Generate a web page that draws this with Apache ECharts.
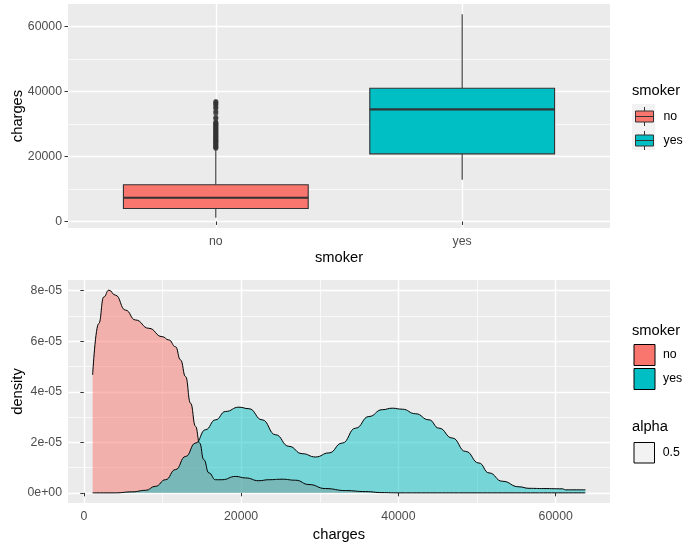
<!DOCTYPE html>
<html>
<head>
<meta charset="utf-8">
<script src="https://cdn.jsdelivr.net/npm/echarts@6/dist/echarts.min.js"></script>
<style>
  html, body { margin: 0; padding: 0; background: #fff; }
  #main { width: 696px; height: 549px; }
</style>
</head>
<body>
<div id="main"></div>
<script>
var groups = ['no', 'yes'];
var groupColors = ['#F8766D', '#00BFC4'];

// box stats per group: [lower whisker, Q1, median, Q3, upper whisker]
var boxNo = [1122, 4000, 7300, 11300, 22400];
var boxYes = [12800, 20800, 34500, 41000, 63770];
var outliersNo = [22500, 22800, 23000, 23300, 23600, 23900, 24200, 24500, 24700,
  25000, 25300, 25600, 25900, 26200, 26500, 26800, 27100, 27400, 27700, 28000,
  28300, 28600, 28900, 29200, 29500, 29800, 30100, 30300, 30600, 31600, 32100,
  33300, 33900, 34800, 35200, 35800, 36200, 36600, 36900];
var chargeRange = [1121.87, 63770.43];

// density curves (units of 1e-05)
var densNoX = [1122, 1900, 2540, 3180, 4030, 5300, 6570, 8270, 9960, 10810, 11660,
  12300, 12940, 13570, 14210, 14720, 15260, 15900, 16750, 17590, 19300, 20570,
  22260, 23500, 25220, 26930, 28620, 30740, 33290, 35830, 37900, 40000, 50000, 63770];
var densNoY = [4.67, 6.7, 7.75, 8.02, 7.82, 7.23, 6.84, 6.51, 6.18, 6.05, 5.78,
  5.26, 4.6, 3.55, 2.63, 1.97, 1.31, 0.79, 0.52, 0.52, 0.65, 0.59,
  0.48, 0.52, 0.54, 0.5, 0.33, 0.17, 0.09, 0.05, 0.01, 0, 0, 0];
var densYesX = [1122, 4000, 6150, 7850, 9120, 10390, 11660, 12940, 14210, 15480,
  16750, 18020, 19720, 20990, 22680, 24380, 26080, 27770, 29470, 31160, 32860,
  34560, 36250, 37940, 39220, 40490, 42190, 43880, 45160, 46850, 48550, 50240,
  51520, 53210, 55330, 56600, 58500, 60840, 61270, 63770];
var densYesY = [0, 0, 0.04, 0.1, 0.26, 0.52, 0.92, 1.44, 1.97, 2.5,
  2.89, 3.22, 3.39, 3.33, 2.89, 2.3, 1.84, 1.55, 1.42, 1.58, 1.97,
  2.56, 3.02, 3.29, 3.35, 3.31, 3.13, 2.89, 2.56, 2.17, 1.64, 1.18,
  0.79, 0.46, 0.24, 0.18, 0.17, 0.16, 0.12, 0.12];
var densPeak = 8.02;

var chargeTicks = [0, 20000, 40000, 60000];
var chargeMinorTicks = [10000, 30000, 50000];
var densTicks = [0, 2, 4, 6, 8];
var densTickLabels = ['0e+00', '2e-05', '4e-05', '6e-05', '8e-05'];
var densMinorTicks = [1, 3, 5, 7];

var FONT = '"Liberation Sans", Arial, sans-serif';
var pad = (chargeRange[1] - chargeRange[0]) * 0.05;
var chargeMin = chargeRange[0] - pad, chargeMax = chargeRange[1] + pad;

function zip(xs, ys) {
  return xs.map(function (x, i) { return [x, ys[i]]; });
}

function majorAxis(gridIndex, min, max, ticks, fmt, name, nameGap) {
  return {
    type: 'value', gridIndex: gridIndex, min: min, max: max,
    name: name, nameLocation: 'middle', nameGap: nameGap, nameMoveOverlap: false,
    nameTextStyle: { color: '#000', fontSize: 14.7, fontFamily: FONT },
    axisLine: { show: false },
    axisTick: { show: true, length: 3.5, customValues: ticks, lineStyle: { color: '#333', width: 1 } },
    axisLabel: { customValues: ticks, formatter: fmt, color: '#4D4D4D', fontSize: 12.3, fontFamily: FONT, margin: 6 },
    splitLine: { show: true, lineStyle: { color: '#fff', width: 1.4 } }
  };
}

function minorAxis(gridIndex, min, max, ticks) {
  return {
    type: 'value', gridIndex: gridIndex, min: min, max: max,
    axisLine: { show: false },
    axisTick: { show: false, customValues: ticks },
    axisLabel: { show: false, customValues: ticks },
    splitLine: { show: true, lineStyle: { color: '#fff', width: 0.7 } }
  };
}

var boxX = majorAxis(0, 0.4, 2.6, [1, 2], function (v) { return groups[Math.round(v) - 1]; }, 'smoker', 22);
boxX.axisLabel.margin = 8;
var densX = majorAxis(1, chargeMin, chargeMax, chargeTicks, function (v) { return String(v); }, 'charges', 24);
densX.axisLabel.margin = 8;

function renderBox(params, api) {
  var x = api.value(0);
  var half = 0.375;
  var lo = api.coord([x, api.value(1)]);
  var q1 = api.coord([x - half, api.value(2)]);
  var med = api.coord([x - half, api.value(3)]);
  var q3 = api.coord([x - half, api.value(4)]);
  var hi = api.coord([x, api.value(5)]);
  var right = api.coord([x + half, api.value(3)])[0];
  var stroke = '#333333';
  return {
    type: 'group',
    children: [
      { type: 'line', shape: { x1: hi[0], y1: hi[1], x2: hi[0], y2: q3[1] }, style: { stroke: stroke, lineWidth: 1.1 } },
      { type: 'line', shape: { x1: lo[0], y1: lo[1], x2: lo[0], y2: q1[1] }, style: { stroke: stroke, lineWidth: 1.1 } },
      { type: 'rect', shape: { x: q3[0], y: q3[1], width: right - q3[0], height: q1[1] - q3[1] },
        style: { fill: api.visual('color'), stroke: stroke, lineWidth: 1.1 } },
      { type: 'line', shape: { x1: med[0], y1: med[1], x2: right, y2: med[1] }, style: { stroke: stroke, lineWidth: 2.2 } }
    ]
  };
}

var chart = echarts.init(document.getElementById('main'));
var option = {
  animation: false,
  backgroundColor: '#fff',
  textStyle: { fontFamily: FONT },
  grid: [
    { left: 68, top: 4, width: 542, height: 224, show: true, backgroundColor: '#EBEBEB', borderWidth: 0, outerBoundsMode: 'none' },
    { left: 68, top: 280, width: 542, height: 223, show: true, backgroundColor: '#EBEBEB', borderWidth: 0, outerBoundsMode: 'none' }
  ],
  xAxis: [
    boxX,
    densX,
    minorAxis(1, chargeMin, chargeMax, chargeMinorTicks)
  ],
  yAxis: [
    majorAxis(0, chargeMin, chargeMax, chargeTicks, function (v) { return String(v); }, 'charges', 43),
    minorAxis(0, chargeMin, chargeMax, chargeMinorTicks),
    majorAxis(1, -densPeak * 0.05, densPeak * 1.05, densTicks, function (v) { return densTickLabels[densTicks.indexOf(v)]; }, 'density', 43),
    minorAxis(1, -densPeak * 0.05, densPeak * 1.05, densMinorTicks)
  ],
  title: [
    { text: 'smoker', left: 632, top: 83.5, padding: 0 },
    { text: 'smoker', left: 632, top: 323.3, padding: 0 },
    { text: 'alpha', left: 632, top: 419.3, padding: 0 }
  ].map(function (t) {
    t.textStyle = { fontSize: 14.7, fontWeight: 'normal', color: '#000', fontFamily: FONT };
    return t;
  }),
  legend: [
    {
      orient: 'vertical', left: 635, top: 106.5, padding: 0, itemGap: 4,
      itemWidth: 18, itemHeight: 19, selectedMode: false,
      icon: 'path://M0,4L18,4L18,15L0,15Z M9,0L9,4 M9,15L9,19 M0,9.5L18,9.5',
      itemStyle: { borderColor: '#333', borderWidth: 1 },
      textStyle: { fontSize: 12.3, color: '#000', fontFamily: FONT, padding: [0, 0, 0, 5] },
      data: groups.map(function (g, i) { return { name: g, itemStyle: { color: groupColors[i] } }; })
    },
    {
      orient: 'vertical', left: 633.5, top: 344, padding: 0, itemGap: 2,
      itemWidth: 21, itemHeight: 21, selectedMode: false, icon: 'rect',
      itemStyle: { borderColor: '#000', borderWidth: 1 },
      textStyle: { fontSize: 12.3, color: '#000', fontFamily: FONT, padding: [0, 0, 0, 3] },
      data: groups.map(function (g, i) { return { name: g, icon: 'rect', itemStyle: { color: groupColors[i], borderColor: '#000', borderWidth: 1 } }; })
    }
  ],
  graphic: [
    { type: 'rect', left: 632, top: 104, z: -1, shape: { width: 23, height: 46 }, style: { fill: '#F2F2F2' } },
    { type: 'rect', left: 633.5, top: 442, shape: { width: 20.5, height: 20.5 }, style: { fill: '#F2F2F2', stroke: '#000', lineWidth: 1 } },
    { type: 'text', left: 662.7, top: 446.5, style: { text: '0.5', fontSize: 12.3, fill: '#000', fontFamily: FONT } }
  ],
  series: [
    { name: 'no', type: 'custom', xAxisIndex: 0, yAxisIndex: 0, itemStyle: { color: groupColors[0] },
      encode: { x: 0, y: [1, 2, 3, 4, 5] }, renderItem: renderBox, data: [[1].concat(boxNo)] },
    { name: 'yes', type: 'custom', xAxisIndex: 0, yAxisIndex: 0, itemStyle: { color: groupColors[1] },
      encode: { x: 0, y: [1, 2, 3, 4, 5] }, renderItem: renderBox, data: [[2].concat(boxYes)] },
    { name: 'no outliers', type: 'scatter', xAxisIndex: 0, yAxisIndex: 0, symbolSize: 5,
      itemStyle: { color: '#333333' }, data: outliersNo.map(function (v) { return [1, v]; }) },
    { name: 'no', type: 'line', xAxisIndex: 1, yAxisIndex: 2, showSymbol: false, smooth: 0.5, smoothMonotone: 'x',
      lineStyle: { color: '#000', width: 1 }, itemStyle: { color: groupColors[0] },
      areaStyle: { color: groupColors[0], opacity: 0.5 }, data: zip(densNoX, densNoY) },
    { name: 'yes', type: 'line', xAxisIndex: 1, yAxisIndex: 2, showSymbol: false, smooth: 0.5, smoothMonotone: 'x',
      lineStyle: { color: '#000', width: 1 }, itemStyle: { color: groupColors[1] },
      areaStyle: { color: groupColors[1], opacity: 0.5 }, data: zip(densYesX, densYesY) }
  ]
};
chart.setOption(option);
</script>
</body>
</html>
